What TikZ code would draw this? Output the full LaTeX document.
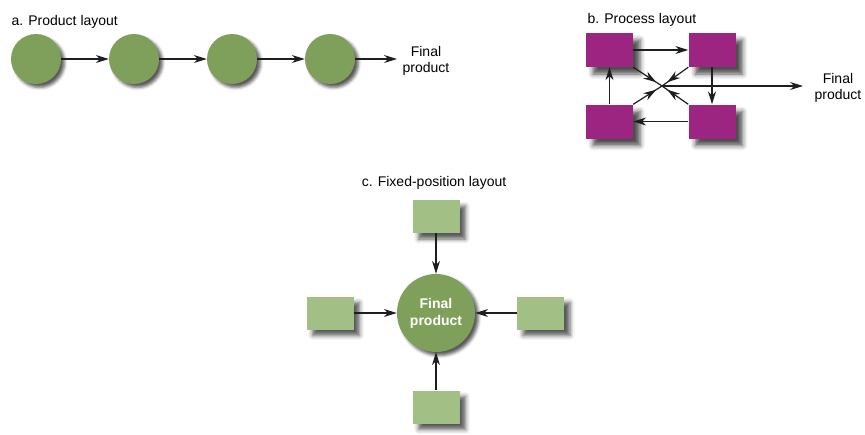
\documentclass[tikz,border=0pt]{standalone}
\usepackage{fontspec}
\setmainfont{Liberation Sans}
\usetikzlibrary{arrows.meta,calc,shadows.blur,decorations.markings}
\definecolor{leaf}{HTML}{7FA05A}
\definecolor{sage}{HTML}{A2BF86}
\definecolor{plum}{HTML}{9C2581}
\definecolor{ink}{HTML}{1E1E1E}
\colorlet{acc}{leaf}

\begin{document}
\begin{tikzpicture}[x=1pt,y=-1pt,font=\fontsize{14}{16.5}\selectfont,
    flow/.style={ink,line width=1.2pt,-{Stealth[length=13pt,width=8pt]}},
    midtip/.style={ink,line width=1.2pt,postaction={decorate},
      decoration={markings,mark=at position .8 with {\arrow{Stealth[length=13pt,width=8pt]}}}},
    station/.style={circle,fill=acc,minimum size=50pt,inner sep=0pt,
      blur shadow={shadow xshift=3.5pt,shadow yshift=-3.5pt,shadow blur radius=3pt,shadow opacity=65}},
    dept/.style={rectangle,fill=plum,minimum width=47pt,minimum height=34pt,inner sep=0pt,
      blur shadow={shadow xshift=7pt,shadow yshift=-7pt,shadow blur radius=5pt,shadow opacity=70}},
    spot/.style={rectangle,fill=sage,minimum width=47pt,minimum height=33pt,inner sep=0pt,
      blur shadow={shadow xshift=6pt,shadow yshift=-6pt,shadow blur radius=4.5pt,shadow opacity=65}}]
  \useasboundingbox (0,0) rectangle (865,434);

  % a. product layout
  \node[anchor=base west] (ta) at (8,25) {a. Product layout};
  \node[station] (p1) at (36,59) {};
  \node[station] (p2) at (134,59) {};
  \node[station] (p3) at (232,59) {};
  \node[station] (p4) at (330,59) {};
  \node[align=center,inner sep=1pt] (pfin) at (426,61) {Final\\product};
  \draw[flow] (p1) -- (p2);
  \draw[flow] (p2) -- (p3);
  \draw[flow] (p3) -- (p4);
  \draw[flow] (p4) -- (397,59);

  % b. process layout
  \node[anchor=base west] (tb) at (584,23) {b. Process layout};
  \node[dept] (tl) at (609.5,50) {};
  \node[dept] (tr) at (712,50) {};
  \node[dept] (bl) at (609.5,121.5) {};
  \node[dept] (br) at (712,121.5) {};
  \coordinate (mix) at (662,86);
  \node[align=center,inner sep=1pt] (bfin) at (838,88) {Final\\product};
  \draw[flow] (tl.east) -- (tr.west);
  \draw[flow] (tr.south) -- (br.north);
  \draw[flow] (br.west) -- (bl.east);
  \draw[flow] (bl.north) -- (tl.south);
  \draw[midtip] (tl.south east) -- (mix);
  \draw[midtip] (tr.south west) -- (mix);
  \draw[midtip] (bl.north east) -- (mix);
  \draw[midtip] (br.north west) -- (mix);
  \draw[flow] (mix) -- (803,86);

  % c. fixed-position layout
  \node[anchor=base] (tc) at (434,186) {c. Fixed-position layout};
  \node[station,minimum size=78pt,text=white,align=center,
    font=\fontsize{14}{17}\selectfont\bfseries] (fp) at (436,313) {Final\\product};
  \node[spot] (up) at (436,216.5) {};
  \node[spot] (lt) at (330,313) {};
  \node[spot] (rt) at (540.5,313) {};
  \node[spot] (dn) at (436,407) {};
  \draw[flow] (up) -- (fp);
  \draw[flow] (lt) -- (fp);
  \draw[flow] (rt) -- (fp);
  \draw[flow] (dn) -- (fp);
\end{tikzpicture}
\end{document}
